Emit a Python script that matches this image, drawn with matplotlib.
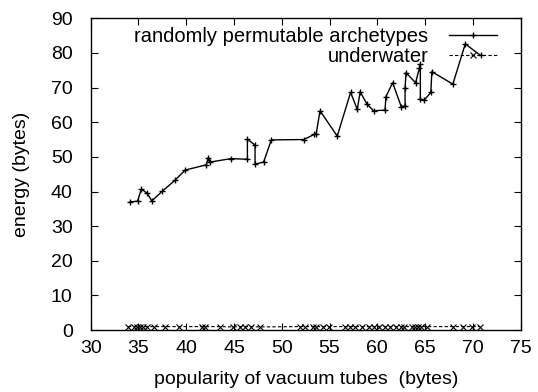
import matplotlib
matplotlib.use("Agg")
import matplotlib.pyplot as plt

plt.rcParams['font.family'] = ['Liberation Sans', 'DejaVu Sans']

# series 1: randomly permutable archetypes
x1 = [34.1, 34.9, 35.3, 35.9, 36.4, 37.5, 38.8, 39.9, 42.1, 42.3, 42.5, 44.7,
      46.4, 46.4, 47.2, 47.2, 48.1, 48.9, 52.3, 53.4, 53.6, 54.0, 55.8, 57.2,
      57.9, 58.2, 58.9, 59.6, 60.8, 60.9, 61.6, 62.5, 62.9, 62.9, 63.0, 64.0,
      64.4, 64.5, 64.5, 64.9, 65.6, 65.7, 67.9, 69.2, 70.8]
y1 = [37.0, 37.2, 40.7, 39.5, 37.3, 40.1, 43.2, 46.2, 47.7, 49.8, 48.5, 49.5,
      49.3, 55.1, 53.4, 47.9, 48.5, 54.9, 55.0, 56.5, 56.7, 63.3, 56.0, 68.6,
      63.7, 68.8, 65.3, 63.3, 63.5, 67.4, 71.4, 64.5, 64.7, 69.8, 74.3, 71.4,
      75.6, 76.8, 66.6, 66.4, 68.6, 74.6, 71.0, 82.6, 79.3]

# series 2: underwater
x2 = [33.9, 34.5, 34.8, 35.2, 35.5, 35.9, 36.6, 37.8, 39.2, 41.6, 42.0, 43.5,
      44.9, 45.6, 46.1, 46.8, 47.7, 51.9, 52.4, 53.3, 53.6, 54.3, 54.9, 56.6,
      57.1, 57.7, 58.4, 59.1, 59.6, 60.2, 60.8, 61.3, 62.0, 62.5, 62.8, 63.6,
      63.9, 64.3, 64.6, 65.2, 67.9, 69.0, 69.9, 70.7]
y2 = [1.0, 1.0, 1.0, 1.0, 1.0, 1.0, 1.0, 1.0, 1.0, 1.0, 1.0, 1.0,
      0.9, 1.0, 1.0, 1.0, 0.9, 1.0, 1.0, 1.0, 1.0, 1.0, 1.0, 1.0,
      1.0, 1.0, 1.0, 1.0, 1.0, 1.0, 1.0, 1.0, 1.0, 1.0, 1.0, 1.0,
      1.0, 1.0, 1.0, 1.0, 1.0, 1.0, 1.0, 1.0]

xticks = [30, 35, 40, 45, 50, 55, 60, 65, 70, 75]
yticks = [0, 10, 20, 30, 40, 50, 60, 70, 80, 90]

FS = 14

fig = plt.figure(figsize=(5.38, 3.92), dpi=100)
ax = fig.add_axes([0.1686, 0.158, 0.7992, 0.7953])

ax.plot(x1, y1, color='black', lw=1, marker='+', ms=5, mew=1,
        label='randomly permutable archetypes')
ax.plot(x2, y2, color='black', lw=0.8, ls=(0, (3, 2)), marker='x', ms=4, mew=0.8,
        label='underwater')

ax.set_xlim(30, 75)
ax.set_ylim(0, 90)
ax.set_xticks(xticks)
ax.set_yticks(yticks)
ax.tick_params(direction='in', top=True, right=True, length=5, width=0.8,
               labelsize=FS, colors='black')
ax.tick_params(axis='x', pad=7)
ax.tick_params(axis='y', pad=13)
for s in ax.spines.values():
    s.set_linewidth(1)

ax.set_xlabel('popularity of vacuum tubes  (bytes)', fontsize=FS, labelpad=10)
ax.set_ylabel('energy (bytes)', fontsize=FS, labelpad=15)

leg = ax.legend(loc='upper right', bbox_to_anchor=(0.945, 0.972), frameon=False,
                markerfirst=False, fontsize=14.5, borderpad=0, borderaxespad=0,
                handlelength=2.4, handletextpad=1.0, labelspacing=0.05)

fig.savefig('out.png', dpi=100)
